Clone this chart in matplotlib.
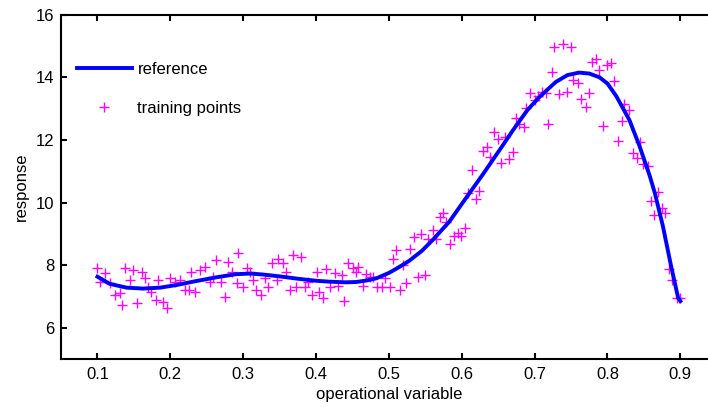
import numpy as np
import matplotlib
matplotlib.use('Agg')
import matplotlib.pyplot as plt

plt.rcParams['font.family'] = ['Liberation Sans', 'DejaVu Sans']

# reference curve
ref_x = [0.100, 0.117, 0.140, 0.163, 0.186, 0.210, 0.231, 0.263, 0.290, 0.310,
         0.327, 0.350, 0.373, 0.400, 0.419, 0.440, 0.455, 0.470, 0.483, 0.500,
         0.515, 0.528, 0.545, 0.560, 0.583, 0.606, 0.629, 0.652, 0.670, 0.690,
         0.707, 0.729, 0.745, 0.761, 0.775, 0.789, 0.800, 0.812, 0.830, 0.844,
         0.858, 0.865, 0.876, 0.887, 0.897, 0.900]
ref_y = [7.63, 7.40, 7.28, 7.25, 7.28, 7.37, 7.47, 7.61, 7.71, 7.73,
         7.70, 7.64, 7.57, 7.50, 7.47, 7.45, 7.46, 7.51, 7.58, 7.75,
         7.95, 8.14, 8.45, 8.80, 9.39, 10.15, 10.90, 11.68, 12.30, 12.95,
         13.38, 13.85, 14.07, 14.15, 14.12, 14.00, 13.80, 13.40, 12.64, 11.80,
         10.85, 10.30, 9.25, 8.00, 6.95, 6.85]

# training points
train_x = [0.099, 0.110, 0.104, 0.117, 0.124, 0.131, 0.133, 0.138, 0.149, 0.145,
           0.154, 0.161, 0.165, 0.170, 0.174, 0.181, 0.190, 0.195, 0.183, 0.199,
           0.206, 0.213, 0.220, 0.225, 0.234, 0.229, 0.241, 0.247, 0.263, 0.279,
           0.259, 0.254, 0.270, 0.284, 0.275, 0.291, 0.293,
           0.300, 0.305, 0.309, 0.314, 0.318, 0.325, 0.330, 0.334, 0.339, 0.348,
           0.355, 0.346, 0.359, 0.364, 0.369, 0.380, 0.373, 0.385, 0.389, 0.394,
           0.401, 0.404, 0.410, 0.414, 0.419, 0.426, 0.430, 0.435, 0.439, 0.444,
           0.451, 0.458, 0.455, 0.465, 0.469, 0.474, 0.478, 0.483, 0.490, 0.494,
           0.501, 0.506, 0.510, 0.515, 0.519, 0.524,
           0.540, 0.549, 0.529, 0.534, 0.544, 0.554, 0.560, 0.565, 0.570, 0.574,
           0.579, 0.584, 0.589, 0.595, 0.599, 0.605, 0.608, 0.620, 0.624, 0.614,
           0.629, 0.639, 0.654, 0.665, 0.670,
           0.635, 0.644, 0.650, 0.660, 0.675, 0.679, 0.685, 0.688, 0.694, 0.700,
           0.704, 0.710, 0.716, 0.719, 0.724, 0.734, 0.727, 0.739,
           0.750, 0.744, 0.752, 0.759, 0.764, 0.770, 0.774, 0.779, 0.784, 0.789,
           0.794, 0.800, 0.805, 0.809, 0.814, 0.820, 0.823, 0.829, 0.835, 0.840,
           0.844, 0.849, 0.855, 0.860, 0.864, 0.869, 0.875, 0.879,
           0.884, 0.889, 0.895, 0.900]
train_y = [7.90, 7.74, 7.47, 7.42, 7.04, 7.10, 6.72, 7.90, 7.84, 7.52,
           6.80, 7.79, 7.58, 7.31, 7.15, 6.88, 6.83, 6.62, 7.52, 7.58,
           7.47, 7.52, 7.20, 7.20, 7.15, 7.79, 7.84, 7.95, 8.16, 8.11,
           7.63, 7.47, 7.47, 7.79, 6.99, 7.42, 8.38,
           7.29, 7.90, 7.79, 7.52, 7.20, 7.04, 7.58, 7.29, 8.06, 8.18,
           8.06, 7.52, 7.79, 7.22, 8.32, 8.25, 7.31, 7.31, 7.47, 7.04,
           7.79, 7.15, 6.94, 7.86, 7.31, 7.76, 7.33, 7.68, 6.86, 8.08,
           7.90, 7.93, 7.79, 7.33, 7.72, 7.63, 7.63, 7.29, 7.29, 7.58,
           7.31, 8.18, 8.48, 7.22, 8.00, 7.42,
           7.61, 7.68, 8.51, 8.89, 8.99, 8.82, 9.12, 8.82, 9.55, 9.68,
           9.39, 8.67, 8.93, 9.01, 8.93, 9.17, 10.29, 10.10, 10.38, 11.04,
           11.66, 11.44, 11.25, 11.38, 11.62,
           11.78, 12.26, 12.02, 12.10, 12.69, 12.51, 12.41, 13.01, 13.51, 13.27,
           13.40, 13.54, 13.49, 12.51, 14.18, 13.47, 14.96, 15.06,
           14.96, 13.54, 13.91, 13.81, 13.30, 13.04, 13.49, 14.50, 14.57, 14.23,
           12.44, 14.39, 14.45, 13.89, 11.97, 12.61, 13.15, 12.95, 11.57, 11.41,
           11.94, 11.23, 11.17, 10.06, 9.60, 10.35, 9.84, 9.65,
           7.87, 7.52, 6.94, 6.94]

fig = plt.figure(figsize=(7.08, 4.07), dpi=100)
fig.set_facecolor('w')
ax = fig.add_axes([0.0862, 0.1179, 0.9262, 0.846])

ax.plot(ref_x, ref_y, color='#0000ff', lw=2.8, label='reference', zorder=3)
ax.plot(train_x, train_y, ls='none', marker='+', color='#ff00ff',
        ms=7, mew=1.0, label='training points', zorder=2)

ax.set_xlim(0.05, 0.95)
ax.set_ylim(5, 16)
ax.set_xticks(np.arange(0.1, 0.91, 0.1))
ax.set_xticklabels(['0.1', '0.2', '0.3', '0.4', '0.5', '0.6', '0.7', '0.8', '0.9'])
ax.set_yticks([6, 8, 10, 12, 14, 16])

for s in ax.spines.values():
    s.set_linewidth(1.5)
ax.tick_params(direction='in', length=4, width=1.5, labelsize=12,
               top=True, right=False)
ax.tick_params(axis='x', pad=6)
ax.tick_params(axis='y', pad=5)

ax.set_xlabel('operational variable', fontsize=12, labelpad=3)
ax.set_ylabel('response', fontsize=12, labelpad=5)

ax.legend(loc='upper left', bbox_to_anchor=(0.0238, 0.862), frameon=False,
          fontsize=12, handlelength=3.3, handletextpad=0.35, labelspacing=1.4,
          borderpad=0, borderaxespad=0, numpoints=1)

fig.savefig('out.png', dpi=100)
